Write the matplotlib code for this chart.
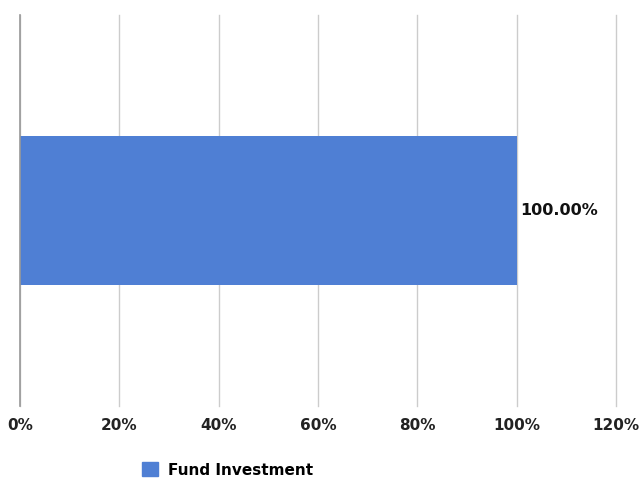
import matplotlib
matplotlib.use("Agg")
import matplotlib.pyplot as plt
from matplotlib.patches import Patch

categories = ["Fund Investment"]
values = [100.0]
xticks = [0, 20, 40, 60, 80, 100, 120]
xtick_labels = ["0%", "20%", "40%", "60%", "80%", "100%", "120%"]

plt.rcParams['font.family'] = ['DejaVu Sans']
color = "#4f7fd4"

fig = plt.figure(figsize=(6.4, 4.78), dpi=100)
ax = fig.add_axes([20/640, 1-406/478, 596/640, 391/478])
ax.barh([0], values, height=0.38, color=color, zorder=3)
ax.set_xlim(0, 120)
ax.set_ylim(-0.5, 0.5)
ax.set_xticks(xticks)
ax.set_xticklabels(xtick_labels, fontsize=11, fontweight='bold', color='#222222')
ax.set_yticks([])
ax.grid(axis='x', color='#cccccc', linewidth=1, zorder=0)
for line in ax.get_xgridlines():
    line.set_clip_on(False)
for s in ['top', 'right', 'bottom']:
    ax.spines[s].set_visible(False)
ax.spines['left'].set_color('#999999')
ax.spines['left'].set_linewidth(1.2)
ax.spines['left'].set_zorder(4)
ax.tick_params(axis='x', length=0, pad=9)
for i, v in enumerate(values):
    ax.text(v + 0.7, i, f"{v:.2f}%", va='center', ha='left', fontsize=11.5, fontweight='bold', color='#111111')

fig.legend(handles=[Patch(color=color, label=categories[0])], loc='center', bbox_to_anchor=(228/640, 1-470/478),
           frameon=False, prop={'weight': 'bold', 'size': 11}, handlelength=1.0, handleheight=1.0, handletextpad=0.7)
fig.savefig("out.png", dpi=100)
